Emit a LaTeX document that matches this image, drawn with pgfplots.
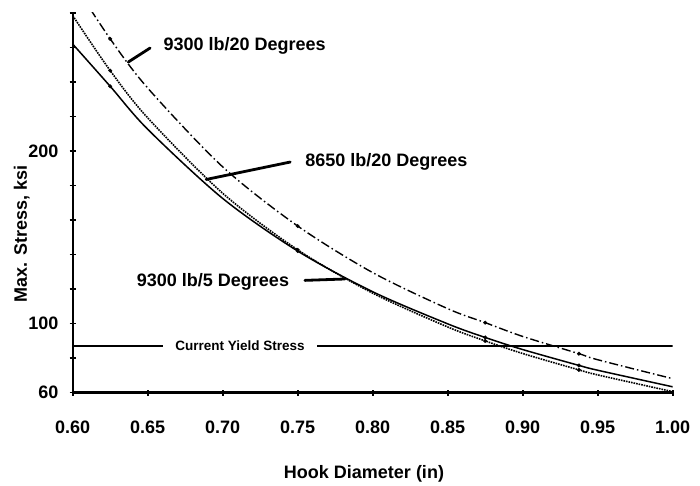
\documentclass[border=0pt]{standalone}
\usepackage{fontspec}
\setmainfont{Liberation Sans}
\usepackage{pgfplots}
\pgfplotsset{compat=1.18}
\begin{document}
\fontsize{18bp}{22bp}\selectfont\bfseries
\begin{tikzpicture}
\path[use as bounding box] (-72.7bp,-93.5bp) rectangle (627.3bp,392.5bp);
\begin{axis}[
  at={(0,0)}, anchor=south west,
  width=600bp, height=379.5bp, scale only axis,
  xmin=0.6, xmax=1.0, ymin=60, ymax=280,
  axis lines*=left,
  axis line style={line width=2.2bp},
  xtick={0.6,0.65,0.7,0.75,0.8,0.85,0.9,0.95,1.0},
  xticklabels={0.60,0.65,0.70,0.75,0.80,0.85,0.90,0.95,1.00},
  ytick={60,80,100,120,140,160,180,200,220,240,260,280},
  yticklabels={60,{},100,{},{},{},{},200,{},{},{},{}},
  tick align=center,
  major tick length=6bp,
  tick style={line width=1.8bp,black},
  xticklabel style={yshift=-19bp},
  yticklabel style={xshift=-5bp},
  xlabel={Hook Diameter (in)},
  ylabel={Max. Stress, ksi},
  xlabel style={at={(axis description cs:0.4855,-0.2148)}, anchor=center},
  ylabel style={at={(axis description cs:-0.085,0.4177)}, anchor=center},
  clip mode=individual,
]
% 9300 lb/20 Degrees (dash-dot)
\addplot[black, line width=1.4bp, smooth, dash pattern=on 9bp off 3bp on 1.5bp off 3bp] coordinates {
(0.60,298.0)(0.625,265.0)(0.65,236.5)(0.70,190.8)(0.75,156.5)(0.80,129.5)(0.85,108.6)(0.875,100.5)(0.90,92.5)(0.9375,82.5)(0.95,79.0)(1.00,68.0)};
% 8650 lb/20 Degrees (dotted)
\addplot[black, line width=1.6bp, smooth, densely dotted] coordinates {
(0.60,278.5)(0.625,246.6)(0.65,219.2)(0.70,175.5)(0.75,142.7)(0.80,117.6)(0.85,98.0)(0.875,89.9)(0.90,82.6)(0.9375,73.1)(0.95,70.2)(1.00,60.5)};
% 9300 lb/5 Degrees (solid)
\addplot[black, line width=1.5bp, smooth] coordinates {
(0.60,262.0)(0.625,237.5)(0.65,212.6)(0.70,172.5)(0.75,142.0)(0.80,118.4)(0.85,99.8)(0.875,91.9)(0.90,84.9)(0.9375,75.7)(0.95,72.9)(1.00,63.3)};
% marks
\addplot[only marks, mark=*, mark size=1.8bp, black] coordinates {
(0.625,265.0)(0.75,156.5)(0.875,100.5)(0.9375,82.5)
(0.625,246.6)(0.75,142.7)(0.875,89.9)(0.9375,73.1)
(0.625,237.5)(0.75,142.0)(0.875,91.9)(0.9375,75.7)};
% yield stress
\addplot[black, line width=2.2bp] coordinates {(0.6,87)(1.0,87)};
\node[fill=white, inner xsep=12bp, inner ysep=2bp, font=\fontsize{13.5bp}{16bp}\selectfont\bfseries] at (axis cs:0.7115,87) {Current Yield Stress};
% labels and pointers
\node[anchor=west, inner sep=0pt] at (axis cs:0.6604,261.0) {9300 lb/20 Degrees};
\draw[line width=2.8bp, line cap=round] (axis cs:0.6516,259.7) -- (axis cs:0.6371,251.6);
\node[anchor=west, inner sep=0pt] at (axis cs:0.7549,193.4) {8650 lb/20 Degrees};
\draw[line width=2.8bp, line cap=round] (axis cs:0.745,193.6) -- (axis cs:0.689,183.5);
\node[anchor=west, inner sep=0pt] at (axis cs:0.6427,123.9) {9300 lb/5 Degrees};
\draw[line width=2.8bp, line cap=round] (axis cs:0.7548,125.0) -- (axis cs:0.7815,125.8);
\end{axis}
\end{tikzpicture}
\end{document}
